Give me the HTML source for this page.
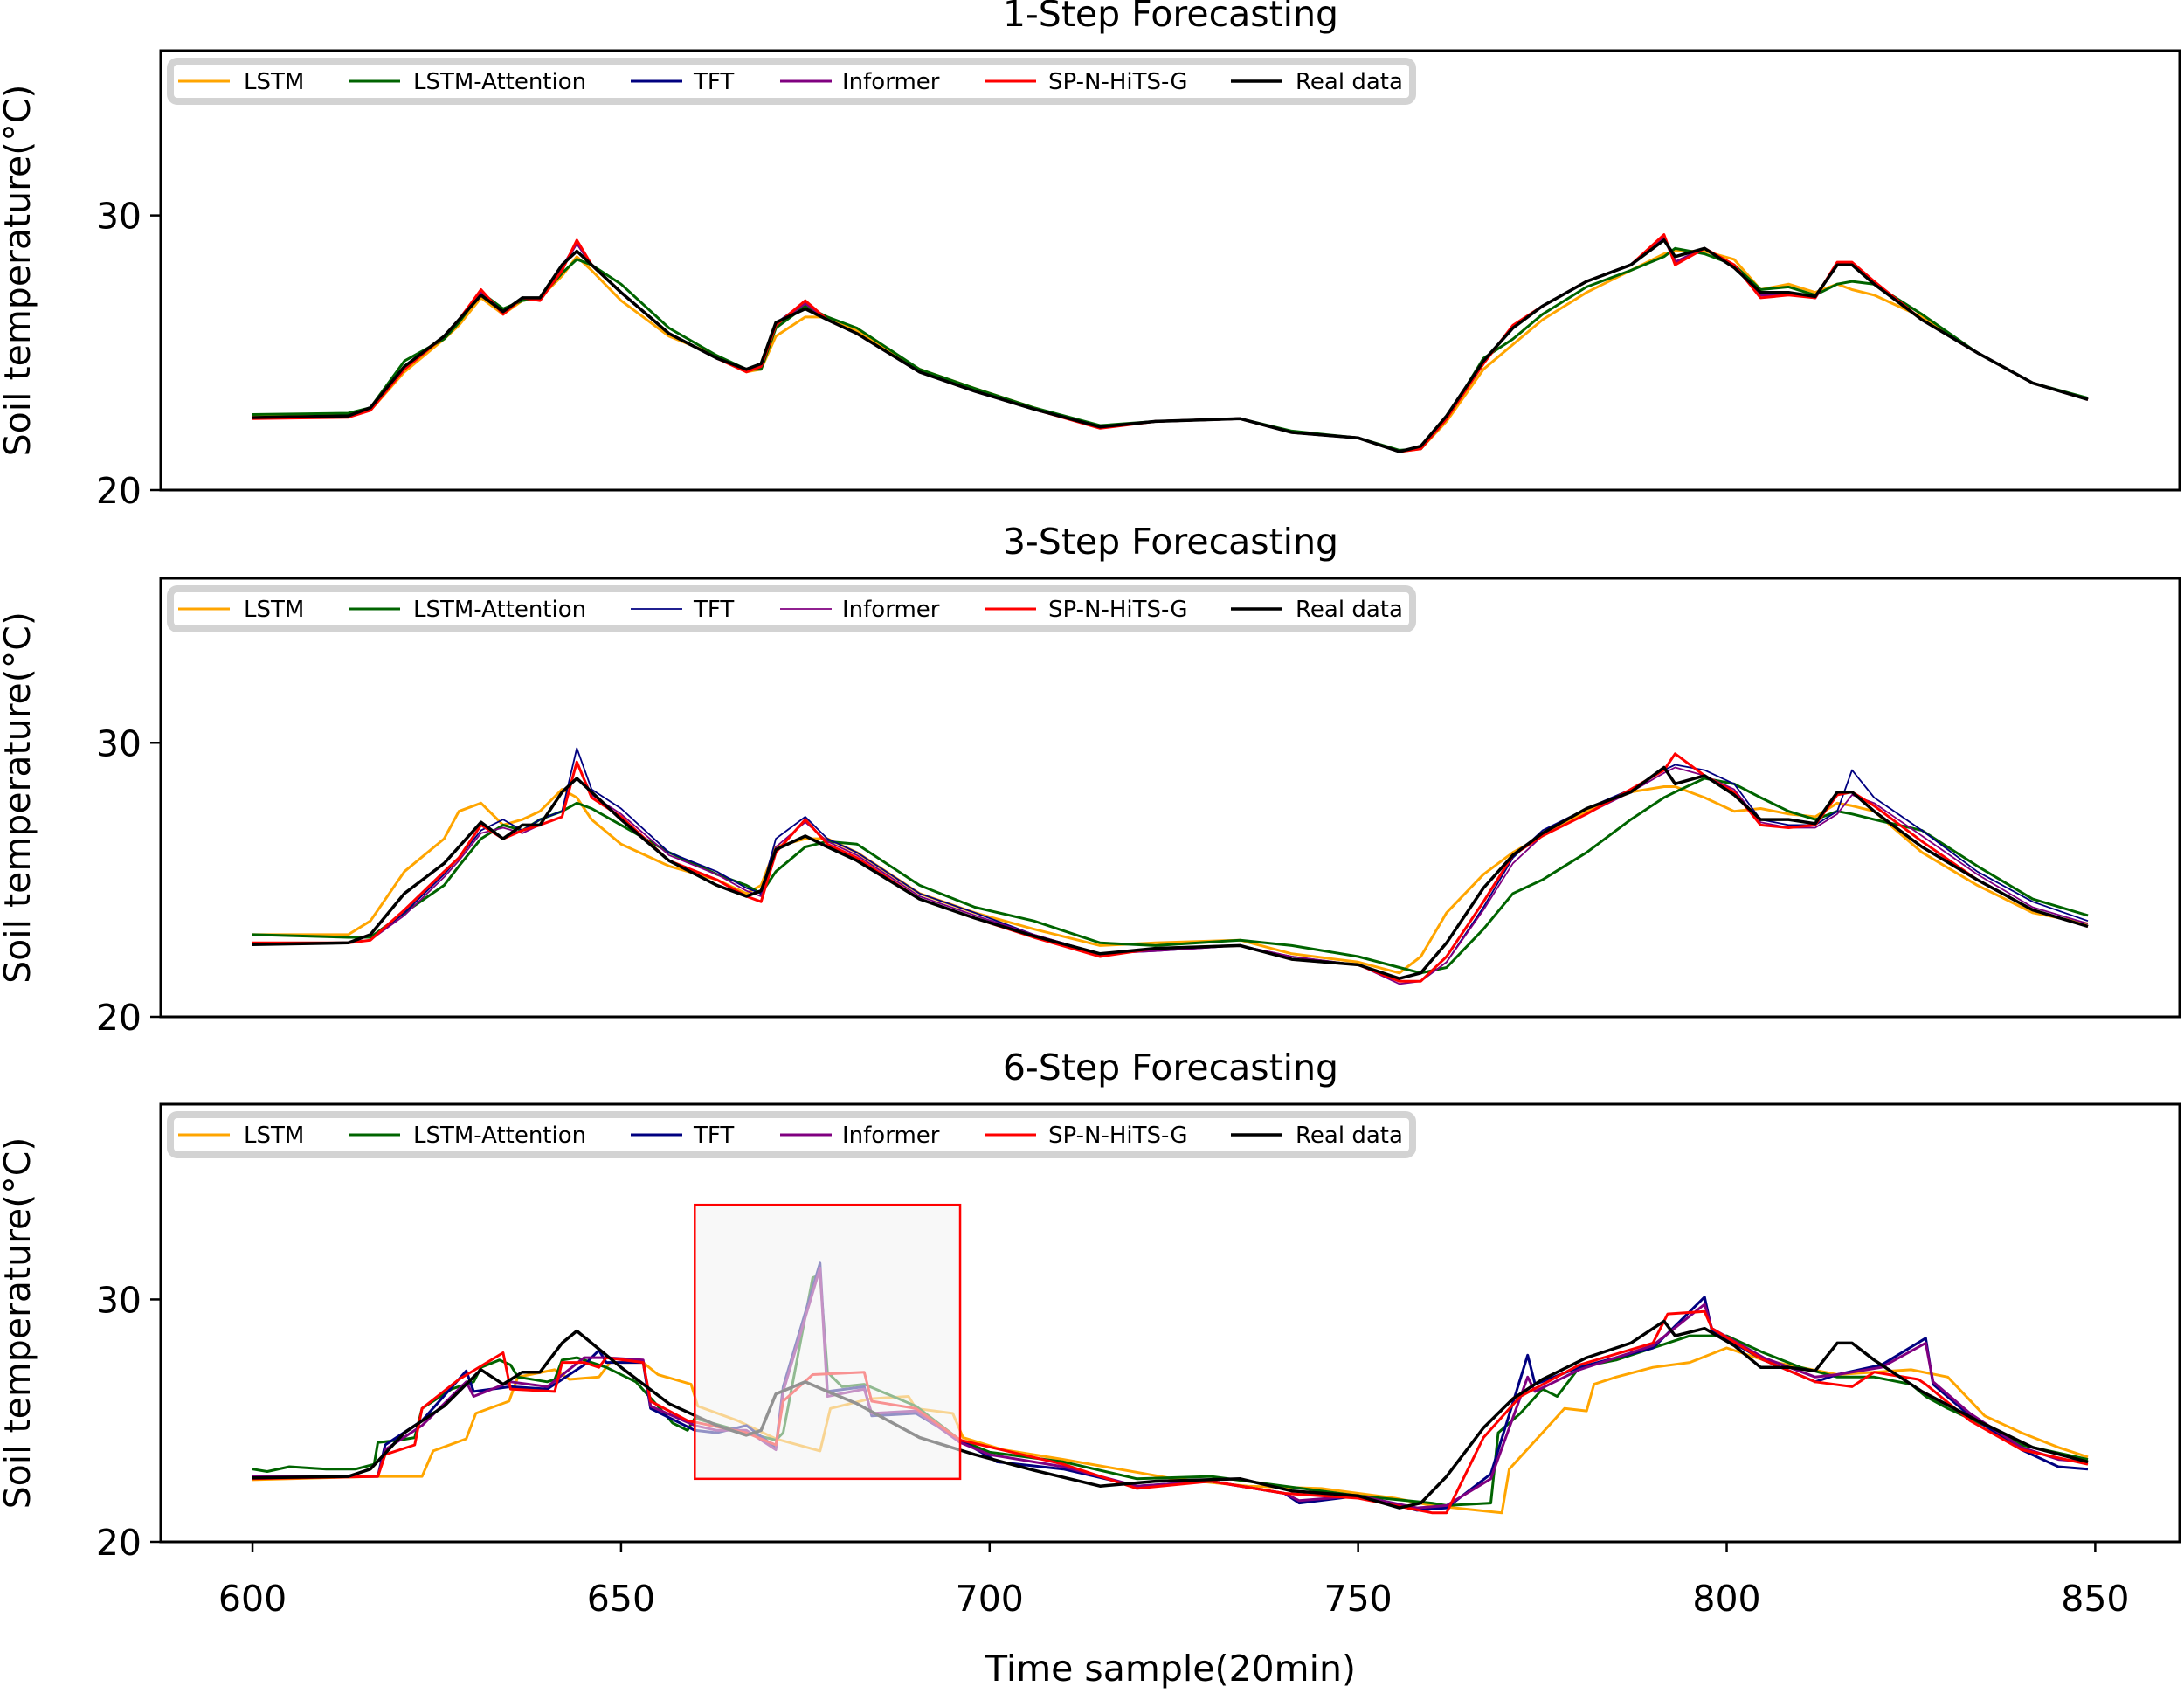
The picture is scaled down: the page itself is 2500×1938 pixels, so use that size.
<!DOCTYPE html>
<html><head><meta charset="utf-8">
<style>
html,body{margin:0;padding:0;background:#fff;}
svg{display:block;font-family:"DejaVu Sans","Liberation Sans",sans-serif;}
</style></head>
<body>
<svg id="chart" width="2500" height="1938" viewBox="0 0 2500 1938" xmlns="http://www.w3.org/2000/svg">
<text x="1340" y="1924" font-size="41" text-anchor="middle">Time sample(20min)</text>
</svg>
<script>
// ---------- data ----------
const xTicks = [600, 650, 700, 750, 800, 850];
const yTicks = [20, 30];
const panelTitles = ["1-Step Forecasting", "3-Step Forecasting", "6-Step Forecasting"];
const seriesNames = ["LSTM", "LSTM-Attention", "TFT", "Informer", "SP-N-HiTS-G", "Real data"];

const realX = [600,613,616,620.6,626,628,631,634,636.6,639,642,644,646,650,656.5,663,667,669,671,675,678,682,690.5,698,706,715,722.5,734,741,750,755.6,758.5,762,767,771,775,781,787,791.5,793,797,801,804.6,808.4,812,815,817,820,826.5,834,841.5,849];
const realY = [22.64,22.7,23.0,24.5,25.6,26.2,27.1,26.5,27.0,27.0,28.2,28.7,28.2,27.2,25.7,24.8,24.4,24.6,26.1,26.6,26.2,25.7,24.3,23.6,22.95,22.3,22.5,22.6,22.1,21.9,21.4,21.6,22.7,24.7,25.9,26.7,27.6,28.2,29.1,28.5,28.8,28.1,27.2,27.2,27.05,28.2,28.2,27.5,26.2,25.0,23.9,23.3];

// panel 1 (share realX)
const p1Lstm = [22.7,22.75,22.9,24.3,25.5,26.0,27.0,26.4,26.9,27.0,27.8,28.5,28.0,26.9,25.6,24.9,24.3,24.4,25.6,26.3,26.3,25.8,24.4,23.7,23.0,22.3,22.5,22.6,22.1,21.9,21.4,21.5,22.5,24.4,25.3,26.2,27.2,28.0,28.6,28.7,28.7,28.4,27.3,27.5,27.2,27.5,27.3,27.1,26.3,25.0,23.9,23.3];
const p1Att = [22.75,22.8,23.0,24.7,25.5,26.1,27.2,26.6,26.9,27.0,27.9,28.4,28.2,27.5,25.9,24.9,24.4,24.4,25.9,26.7,26.3,25.9,24.4,23.7,23.0,22.35,22.5,22.6,22.15,21.9,21.45,21.5,22.6,24.8,25.5,26.4,27.4,28.0,28.5,28.8,28.6,28.2,27.3,27.4,27.1,27.5,27.6,27.5,26.4,25.0,23.9,23.35];
const p1Tft = [22.62,22.68,22.95,24.45,25.6,26.2,27.25,26.45,27.0,26.95,28.1,29.0,28.2,27.2,25.7,24.8,24.35,24.5,26.05,26.85,26.2,25.7,24.3,23.6,22.95,22.28,22.5,22.6,22.1,21.9,21.4,21.55,22.65,24.65,25.95,26.7,27.6,28.2,29.2,28.3,28.8,28.15,27.1,27.15,27.0,28.25,28.25,27.55,26.2,25.0,23.9,23.3];
const p1Inf = [22.63,22.68,22.95,24.45,25.6,26.2,27.2,26.45,27.0,26.95,28.1,29.0,28.2,27.2,25.7,24.8,24.35,24.5,26.05,26.8,26.2,25.7,24.3,23.6,22.95,22.28,22.5,22.6,22.1,21.9,21.4,21.55,22.65,24.65,25.95,26.7,27.6,28.2,29.2,28.3,28.8,28.15,27.1,27.15,27.0,28.25,28.25,27.55,26.2,25.0,23.9,23.3];
const p1Sp = [22.6,22.65,22.9,24.4,25.6,26.2,27.3,26.4,27.0,26.9,28.0,29.1,28.2,27.2,25.7,24.8,24.3,24.5,26.0,26.9,26.2,25.7,24.3,23.6,22.95,22.25,22.5,22.6,22.1,21.9,21.4,21.5,22.6,24.6,26.0,26.7,27.6,28.2,29.3,28.2,28.8,28.2,27.0,27.1,27.0,28.3,28.3,27.6,26.2,25.0,23.9,23.3];

// panel 2 (share realX)
const p2Lstm = [23.0,23.0,23.5,25.3,26.5,27.5,27.8,27.0,27.2,27.5,28.3,28.0,27.2,26.3,25.5,25.0,24.5,24.8,26.2,26.5,26.5,26.0,24.5,23.8,23.2,22.6,22.7,22.8,22.3,22.0,21.6,22.2,23.8,25.2,26.0,26.6,27.5,28.2,28.4,28.4,28.0,27.5,27.6,27.4,27.3,27.8,27.7,27.5,26.0,24.8,23.8,23.4];
const p2Att = [23.0,22.9,22.9,23.8,24.8,25.5,26.5,27.0,26.8,27.2,27.5,27.8,27.6,27.0,26.0,25.2,24.8,24.5,25.3,26.2,26.4,26.3,24.8,24.0,23.5,22.7,22.6,22.8,22.6,22.2,21.8,21.6,21.8,23.2,24.5,25.0,26.0,27.2,28.0,28.2,28.7,28.5,28.0,27.5,27.2,27.5,27.4,27.2,26.8,25.5,24.3,23.7];
const p2Tft = [22.7,22.7,22.8,23.8,25.2,25.8,26.8,27.2,26.8,27.2,27.5,29.8,28.3,27.6,26.0,25.3,24.7,24.5,26.5,27.3,26.5,26.0,24.5,23.8,23.0,22.3,22.4,22.6,22.2,21.9,21.3,21.3,22.0,24.0,25.8,26.8,27.6,28.3,29.0,29.2,29.0,28.5,27.2,27.0,27.0,27.5,29.0,28.0,26.8,25.3,24.2,23.5];
const p2Inf = [22.7,22.7,22.8,23.7,25.1,25.7,26.7,26.9,26.7,27.0,27.3,29.3,28.1,27.4,25.9,25.2,24.6,24.4,26.2,27.1,26.4,25.9,24.4,23.7,23.0,22.3,22.4,22.6,22.2,21.9,21.2,21.3,22.0,23.9,25.6,26.6,27.4,28.2,28.9,29.1,28.8,28.3,27.1,26.9,26.9,27.4,28.1,27.8,26.6,25.2,24.0,23.4];
const p2Sp = [22.7,22.7,22.8,23.9,25.3,25.8,27.0,26.5,26.8,27.0,27.3,29.3,28.0,27.3,25.7,25.0,24.4,24.2,26.0,27.2,26.3,25.8,24.3,23.6,22.9,22.2,22.5,22.6,22.1,21.9,21.3,21.3,22.2,24.2,25.9,26.6,27.4,28.3,29.0,29.6,28.8,28.2,27.0,26.9,27.0,28.1,28.2,27.7,26.4,25.0,23.9,23.3];

// panel 3 (own knots)
const p3LstmX = [600,616.6,623,624.5,629,630.3,634.8,636,641,643,647,648.5,653,655,659.5,660.4,665.8,671,677,678.4,683.8,689,690,695,696.4,701.8,710,725,735,745,755,760,769.5,770.5,775,778,781,782,785,790,795,800,805,810,815,820,825,830,835,840,845,849];
const p3LstmY = [22.56,22.7,22.7,23.75,24.25,25.3,25.8,26.8,27.1,26.7,26.8,27.4,27.4,26.9,26.5,25.6,25.0,24.25,23.75,25.5,25.9,26.0,25.5,25.3,24.3,23.8,23.4,22.6,22.3,22.2,21.8,21.5,21.2,23.0,24.5,25.5,25.4,26.5,26.8,27.2,27.4,28.0,27.5,27.2,26.9,27.0,27.1,26.8,25.2,24.5,23.9,23.5];
const p3AttX = [600,602,605,610,614,616.5,617,620,622,623,627,630,631,633.5,635,636,640,641,642,644,648,652,655,657,659,660,667,671,672,676,677,678,680,683,690,696,700,710,720,730,740,750,760,762,768,769,772,775,777,780,785,790,795,800,805,810,815,820,825,827,830,835,840,849];
const p3AttY = [23.0,22.9,23.1,23.0,23.0,23.2,24.1,24.2,24.3,25.5,26.3,26.6,27.2,27.5,27.3,26.8,26.6,26.7,27.5,27.6,27.2,26.6,25.6,24.9,24.6,25.1,24.5,24.2,24.5,30.9,31.0,27.0,26.4,26.5,25.6,24.2,23.7,23.3,22.6,22.7,22.3,21.9,21.6,21.5,21.6,24.5,25.3,26.3,26.0,27.2,27.5,28.0,28.5,28.5,27.8,27.2,26.8,26.8,26.5,26.0,25.5,24.8,24.0,23.4];
const p3TftX = [600,617,618,623,629,630,635,640,645,647,648,653,654,660,663,667,671,672,677,678,683,684,690,696,700,701,710,720,730,740,742,750,758,762,768,773,774,780,790,797,798,805,812,815,821,827,828,833,840,845,849];
const p3TftY = [22.7,22.7,24.0,25.0,27.05,26.2,26.4,26.3,27.3,27.9,27.4,27.4,25.5,24.6,24.5,24.8,23.9,26.4,31.5,26.2,26.4,25.2,25.3,24.2,23.5,23.3,23.0,22.3,22.5,22.0,21.6,21.9,21.3,21.4,22.8,27.7,26.5,27.2,28.0,30.1,28.7,27.5,26.6,26.9,27.3,28.4,26.5,25.2,23.8,23.1,23.0];
const p3InfX = [600,617,618,623,629,630,635,640,645,647,648,653,654,660,663,667,671,672,677,678,683,684,690,696,700,710,720,730,740,742,750,758,762,768,773,774,780,790,797,798,805,812,815,821,827,828,833,840,845,849];
const p3InfY = [22.7,22.7,23.8,24.8,26.6,26.0,26.6,26.4,27.6,27.6,27.6,27.5,25.6,24.8,24.6,24.6,23.8,26.2,31.3,26.0,26.3,25.3,25.4,24.1,23.6,23.1,22.3,22.5,22.0,21.7,21.9,21.4,21.5,22.6,26.8,26.2,27.1,28.1,29.8,28.8,27.6,26.8,26.9,27.2,28.2,26.6,25.3,23.9,23.4,23.3];
const p3SpX = [600,617,618,622,623,628,634,635,641,642,645,647,648,653,654,659,667,671,672,676,683,684,690,696,710,720,730,740,750,760,762,767,772,780,790,792,797,798,805,812,817,820,826,827,833,840,849];
const p3SpY = [22.6,22.7,23.6,24.0,25.5,26.7,27.8,26.3,26.2,27.4,27.4,27.2,27.6,27.4,25.8,25.0,24.5,24.0,25.8,26.9,27.0,25.8,25.5,24.2,23.2,22.2,22.5,22.0,21.8,21.2,21.2,24.3,26.0,27.3,28.2,29.4,29.5,28.8,27.5,26.6,26.4,27.0,26.7,26.5,25.0,23.8,23.2];

const insetX = [660, 696];
const insetY = [22.6, 33.9];

// ---------- layout ----------
const svg = document.getElementById('chart');
const NS = 'http://www.w3.org/2000/svg';
const X0 = 184, X1 = 2495, XMIN = 587.55, XMAX = 861.45;
const panels = [
  {top: 58, bottom: 561, ymax: 36.0},
  {top: 662, bottom: 1164, ymax: 36.0},
  {top: 1264, bottom: 1765, ymax: 38.05}
];
const colors = ["#FFA500", "#006400", "#000080", "#800080", "#FF0000", "#000000"];
function sx(v){ return X0 + (v - XMIN) / (XMAX - XMIN) * (X1 - X0); }
function mk(tag, attrs){ const e = document.createElementNS(NS, tag); for (const k in attrs) e.setAttribute(k, attrs[k]); svg.appendChild(e); return e; }

const panelSeries = [
  [[realX,p1Lstm],[realX,p1Att],[realX,p1Tft],[realX,p1Inf],[realX,p1Sp],[realX,realY]],
  [[realX,p2Lstm],[realX,p2Att],[realX,p2Tft],[realX,p2Inf],[realX,p2Sp],[realX,realY]],
  [[p3LstmX,p3LstmY],[p3AttX,p3AttY],[p3TftX,p3TftY],[p3InfX,p3InfY],[p3SpX,p3SpY],[realX,realY]]
];
const widths = [[3,3,3,3,3,3.5],[3,3,1.8,1.8,3,3.5],[3,3,3,3,3,3.5]];
const slugs = ["lstm","lstm-attention","tft","informer","sp-n-hits-g","real-data"];

panels.forEach((p, pi) => {
  const sy = v => p.bottom - (v - 20) / (p.ymax - 20) * (p.bottom - p.top);
  const t = mk('text', {x: 1340, y: p.top - 28, 'font-size': 41, 'text-anchor': 'middle'});
  t.textContent = panelTitles[pi];
  
  
  const cy = (p.top + p.bottom) / 2;
  const yl = mk('text', {x: 0, y: 0, 'font-size': 41, 'text-anchor': 'middle', transform: `translate(34,${cy}) rotate(-90)`});
  yl.textContent = 'Soil temperature(°C)';
  
  
  yTicks.forEach(v => {
    const y = sy(v);
    const tk = mk('line', {x1: X0 - 12, x2: X0, y1: y, y2: y, stroke: '#000', 'stroke-width': 2.5});
    
    
    const lb = mk('text', {x: X0 - 22, y: y + 15, 'font-size': 41, 'text-anchor': 'end'});
    lb.textContent = v;
    
    
  });
  const cp = mk('clipPath', {id: 'clip' + pi});
  const cr = document.createElementNS(NS, 'rect');
  cr.setAttribute('x', X0); cr.setAttribute('y', p.top); cr.setAttribute('width', X1 - X0); cr.setAttribute('height', p.bottom - p.top);
  cp.appendChild(cr);
  panelSeries[pi].forEach((s, si) => {
    const [xs, ys] = s;
    const pts = xs.map((x, i) => sx(x).toFixed(1) + ',' + sy(ys[i]).toFixed(1)).join(' ');
    const pl = mk('polyline', {points: pts, fill: 'none', stroke: colors[si], 'stroke-width': widths[pi][si], 'stroke-linejoin': 'round', 'clip-path': `url(#clip${pi})`});
    
    
  });
  if (pi === 2) {
    const r = mk('rect', {x: sx(insetX[0]), y: sy(insetY[1]), width: sx(insetX[1]) - sx(insetX[0]), height: sy(insetY[0]) - sy(insetY[1]), fill: 'rgba(244,244,244,0.6)', stroke: '#FF0000', 'stroke-width': 2.5});
    
    
    xTicks.forEach(v => {
      const x = sx(v);
      const tk = mk('line', {x1: x, x2: x, y1: p.bottom, y2: p.bottom + 12, stroke: '#000', 'stroke-width': 2.5});
      
      
      const lb = mk('text', {x: x, y: p.bottom + 79, 'font-size': 41, 'text-anchor': 'middle'});
      lb.textContent = v;
      
      
    });
  }
  const fr = mk('rect', {x: X0, y: p.top, width: X1 - X0, height: p.bottom - p.top, fill: 'none', stroke: '#000', 'stroke-width': 3});
  
  
  const lgTop = p.top + 12;
  const lg = mk('rect', {x: 195, y: lgTop, width: 1422, height: 46, rx: 8, fill: '#fff', stroke: '#d3d3d3', 'stroke-width': 8});
  
  
  const lineX = [204, 399, 722, 893, 1127, 1409];
  const textX = [279, 473, 794, 964, 1200, 1483];
  seriesNames.forEach((n, si) => {
    const ly = lgTop + 23;
    const ln = mk('line', {x1: lineX[si], x2: lineX[si] + 59, y1: ly, y2: ly, stroke: colors[si], 'stroke-width': widths[pi][si]});
    
    
    const tx = mk('text', {x: textX[si], y: ly + 9, 'font-size': 26});
    tx.textContent = n;
    
    
  });
});
</script>
</body></html>
